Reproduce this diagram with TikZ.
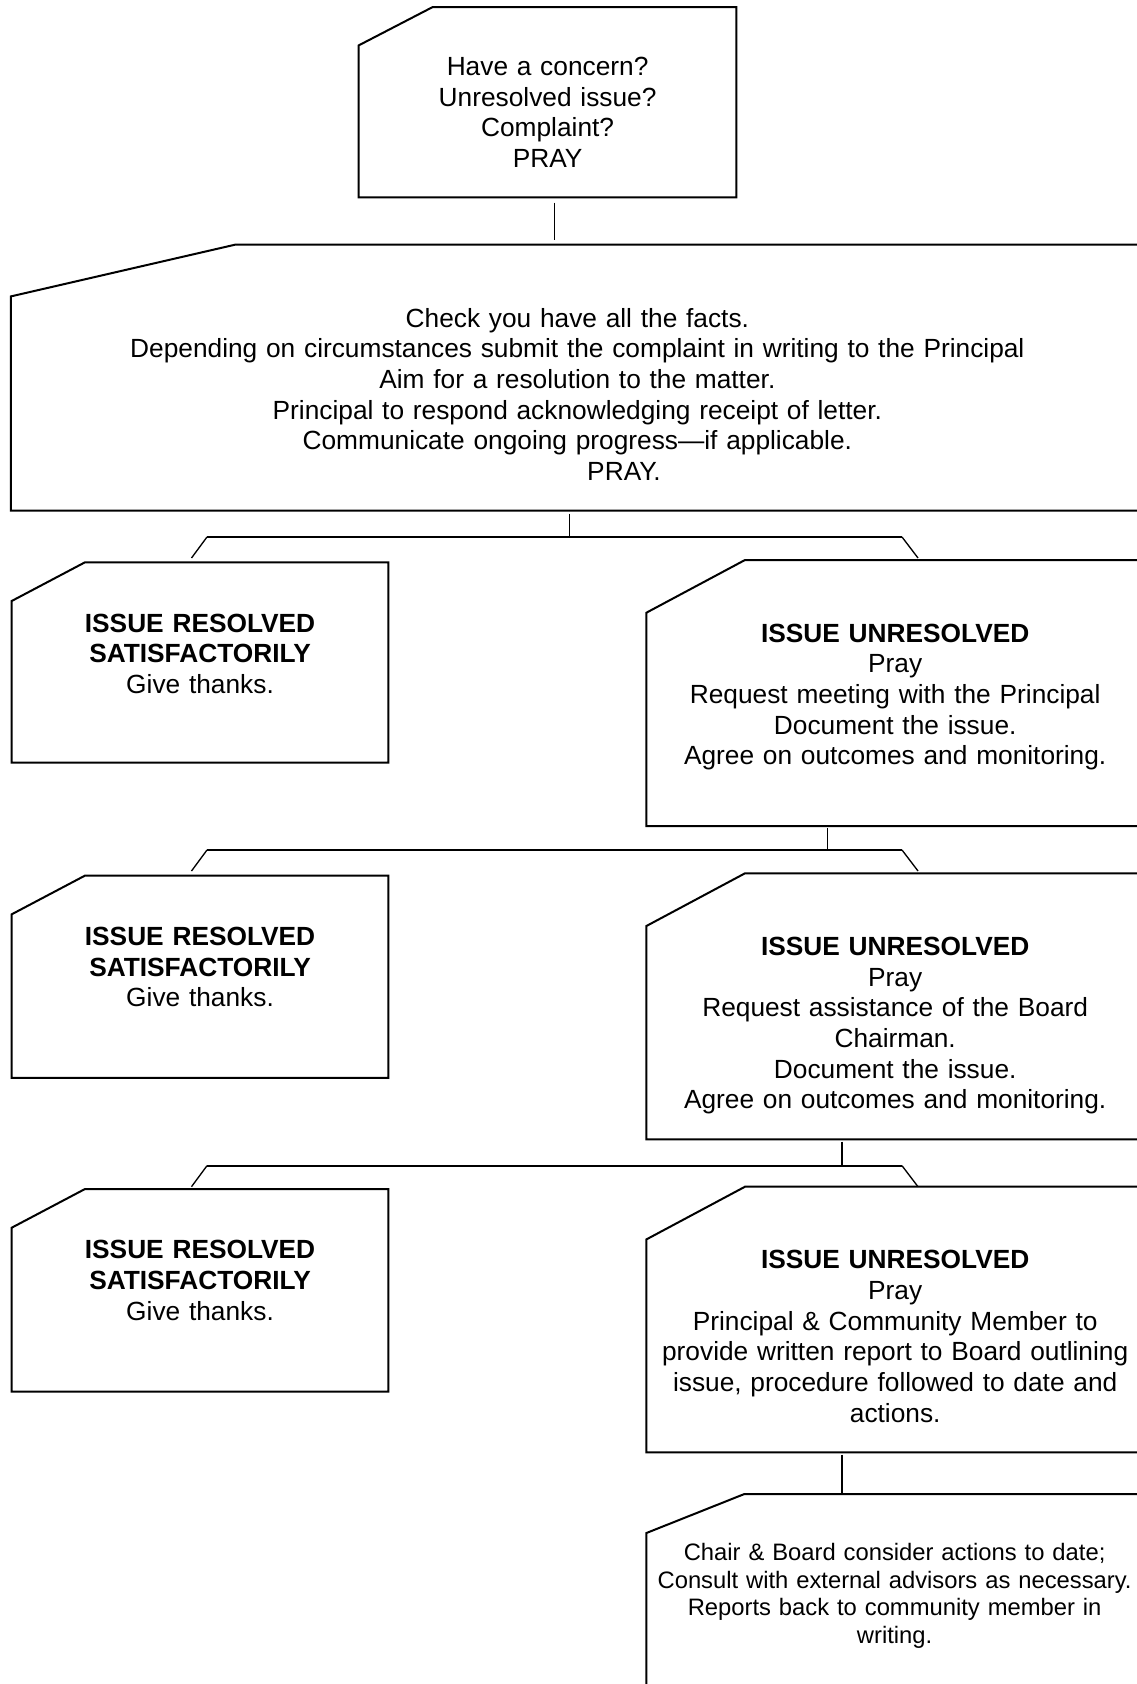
\documentclass[tikz,border=0pt]{standalone}
\usepackage{fontspec}
\setmainfont{Liberation Sans}
\usetikzlibrary{calc}
\tikzset{
	cutbox/.style={
		% The shape (the cut corner is drawn later):
		rectangle,anchor=north west,inner sep=0pt,
		% The text:
		align=center,font=\fontsize{11.83}{13.8}\selectfont}}
\tikzset{
	outline/.style={line width=0.9pt,line join=miter},
	fork/.style={line width=0.9pt},
	link/.style={line width=0.6pt}}

\begin{document}
\begin{tikzpicture}[x=0.45pt,y=-0.45pt]
	\useasboundingbox (0,0) rectangle (1136,1684);
	% The boxes
	\node[cutbox,text width=169.6pt,text height=30.6pt,text depth=54.6pt] (start) at (358.7,7.1)
		{Have a concern?\\Unresolved issue?\\Complaint?\\PRAY};
	\node[cutbox,text width=509.4pt,text height=37pt,text depth=82.3pt] (facts) at (10.9,244.6)
		{Check you have all the facts.\\
		Depending on circumstances submit the complaint in writing to the Principal\\
		Aim for a resolution to the matter.\\
		Principal to respond acknowledging receipt of letter.\\
		Communicate ongoing progress—if applicable.\\
		\hspace*{42pt}PRAY.};
	\node[cutbox,text width=169.1pt,text height=31.2pt,text depth=58.5pt] (ok1) at (11.7,562.3)
		{\textbf{ISSUE RESOLVED}\\\textbf{SATISFACTORILY}\\Give thanks.};
	\node[cutbox,text width=223.5pt,text height=36.8pt,text depth=82.5pt] (meet) at (646.4,560)
		{\textbf{ISSUE UNRESOLVED}\\Pray\\Request meeting with the Principal\\
		Document the issue.\\Agree on outcomes and monitoring.};
	\node[cutbox,text width=169.1pt,text height=31.2pt,text depth=59.4pt] (ok2) at (11.7,875.6)
		{\textbf{ISSUE RESOLVED}\\\textbf{SATISFACTORILY}\\Give thanks.};
	\node[cutbox,text width=223.5pt,text height=36.8pt,text depth=82.5pt] (chair) at (646.4,873.3)
		{\textbf{ISSUE UNRESOLVED}\\Pray\\Request assistance of the Board\\Chairman.\\
		Document the issue.\\Agree on outcomes and monitoring.};
	\node[cutbox,text width=169.1pt,text height=31.2pt,text depth=59.6pt] (ok3) at (11.7,1189)
		{\textbf{ISSUE RESOLVED}\\\textbf{SATISFACTORILY}\\Give thanks.};
	\node[cutbox,text width=223.5pt,text height=36.7pt,text depth=82.5pt] (report) at (646.4,1186.7)
		{\textbf{ISSUE UNRESOLVED}\\Pray\\Principal \& Community Member to\\
		provide written report to Board outlining\\issue, procedure followed to date and\\actions.};
	\node[cutbox,text width=223pt,text height=29.7pt,text depth=90pt,
		font=\fontsize{10.7}{12.4}\selectfont] (board) at (646.4,1494)
		{Chair \& Board consider actions to date;\\Consult with external advisors as necessary.\\
		Reports back to community member in\\writing.};
	% Cut corners of the boxes
	\draw[outline] ($(start.north west)+(73.9,0)$) -- (start.north east) -- (start.south east)
		-- (start.south west) -- ($(start.north west)+(0,38.3)$) -- cycle;
	\draw[outline] ($(facts.north west)+(224.6,0)$) -- (facts.north east) -- (facts.south east)
		-- (facts.south west) -- ($(facts.north west)+(0,51.8)$) -- cycle;
	\draw[outline] ($(ok1.north west)+(73.3,0)$) -- (ok1.north east) -- (ok1.south east)
		-- (ok1.south west) -- ($(ok1.north west)+(0,38.7)$) -- cycle;
	\draw[outline] ($(meet.north west)+(98.6,0)$) -- (meet.north east) -- (meet.south east)
		-- (meet.south west) -- ($(meet.north west)+(0,52.7)$) -- cycle;
	\draw[outline] ($(ok2.north west)+(73.3,0)$) -- (ok2.north east) -- (ok2.south east)
		-- (ok2.south west) -- ($(ok2.north west)+(0,38.7)$) -- cycle;
	\draw[outline] ($(chair.north west)+(98.6,0)$) -- (chair.north east) -- (chair.south east)
		-- (chair.south west) -- ($(chair.north west)+(0,52.7)$) -- cycle;
	\draw[outline] ($(ok3.north west)+(73.3,0)$) -- (ok3.north east) -- (ok3.south east)
		-- (ok3.south west) -- ($(ok3.north west)+(0,38.7)$) -- cycle;
	\draw[outline] ($(report.north west)+(98.6,0)$) -- (report.north east) -- (report.south east)
		-- (report.south west) -- ($(report.north west)+(0,52.7)$) -- cycle;
	\draw[outline] ($(board.north west)+(98,0)$) -- (board.north east) -- (board.south east)
		-- (board.south west) -- ($(board.north west)+(0,39)$) -- cycle;
	% Lines out of start
	\coordinate (s1) at (554.3,0);
	\draw[link,shorten <=2.4pt,shorten >=2pt] (start.south -| s1) -- (facts.north -| s1);
	% Lines out of facts
	\coordinate (fork1) at (569.6,537);
	\draw[link,shorten <=1.4pt] (facts.south -| fork1) -- (fork1);
	\draw[fork] (207,537) coordinate (l1) -- (902,537) coordinate (r1);
	\draw[link] (l1) -- ++(-15.5,21);
	\draw[link] (r1) -- ++(16,21);
	% Lines out of meet
	\coordinate (fork2) at (827.3,850);
	\draw[link,shorten <=1pt] (meet.south -| fork2) -- (fork2);
	\draw[fork] (207,850) coordinate (l2) -- (902,850) coordinate (r2);
	\draw[link] (l2) -- ++(-15.5,21);
	\draw[link] (r2) -- ++(16,21);
	% Lines out of chair
	\coordinate (fork3) at (842,1165.7);
	\draw[link,shorten <=1pt] (chair.south -| fork3) -- (fork3);
	\draw[fork] (207,1165.7) coordinate (l3) -- (902,1165.7) coordinate (r3);
	\draw[link] (l3) -- ++(-15.5,21);
	\draw[link] (r3) -- ++(16,21);
	% Lines out of report
	\coordinate (s4) at (842,0);
	\draw[link,shorten <=1pt] (report.south -| s4) -- (board.north -| s4);
\end{tikzpicture}
\end{document}
